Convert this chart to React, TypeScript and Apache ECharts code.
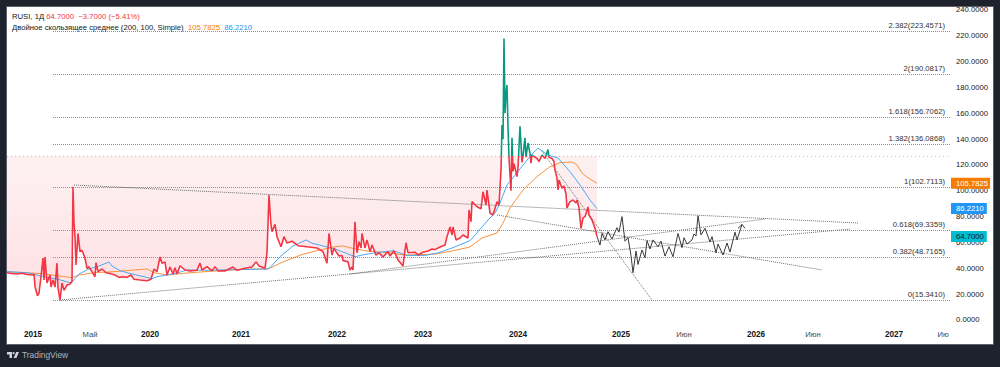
import React, { useEffect, useRef } from "react";
import * as echarts from "echarts";

const FONT = "'Liberation Sans', sans-serif";
const AXIS_END = 944;
const BASELINE = 127;

const yTicks = [0, 20, 40, 60, 80, 100, 120, 140, 160, 180, 200, 220, 240];
const xTickValues = [26, 83, 143, 234, 330, 416, 511, 614, 677, 749, 806, 887, 936];
const xTickLabels = ["2015", "Май", "2020", "2021", "2022", "2023", "2024", "2025", "Июн", "2026", "Июн", "2027", "Ию"];
const yearLabels = ["2015", "2020", "2021", "2022", "2023", "2024", "2025", "2026", "2027"];

const pricePts: number[][] = [
  [0,36.6],[5,36],[10,35.6],[15,36.2],[20,35.2],[26,34.8],[27,35.6],[28,25.8],[30.5,18.8],[32,20.7],[34,33.5],[36,48],[37,31],[38,48.8],[40,28.6],[42,33],[43,34.8],[44,25.5],[46,31],[48,25.5],[50,44],[51,24.8],[53,15.5],[55,28.6],[57,23],[60,27],[63,27.9],[65,29.7],[66,103.2],[67,75],[68,64.5],[69,42.6],[71,67],[73,52.9],[75,54],[78,48],[80,40],[82,41],[85,37.4],[88,33.5],[89,44.4],[91,37.4],[95,39.5],[99,36.6],[103,36],[108,34.8],[112,33],[116,33.5],[120,33],[124,34.8],[127,31.6],[133,31],[140,30.4],[144,31.6],[147,39.5],[150,37.4],[153,48.8],[155,44],[158,45],[160,34.8],[163,41],[166,35.6],[168,40.5],[170,35.6],[173,42],[178,38.7],[183,38],[190,38.5],[193,44],[195,38.7],[200,41.3],[205,38],[208,41.3],[211,38],[218,38],[226,41],[230,38.5],[238,40],[245,41],[249,45],[252,41.8],[258,40],[260,52],[262,96.8],[264,73.5],[265,68.4],[268,74],[270,64.5],[274,56.7],[277,64.5],[280,59.6],[285,61],[291,57.5],[300,56.7],[310,55.7],[316,52.9],[320,44],[322,67],[325,50.3],[327,55.7],[329,52.9],[332,49.5],[335,50],[336,46],[341,45],[343,38.7],[345,41],[346,38.7],[348,76],[350,52],[352,60.6],[354,55.7],[355,67],[358,55.7],[360,62],[363,52.9],[365,58],[369,50.3],[372,52],[376,48.8],[381,52.9],[383,49.5],[387,53.6],[391,46.5],[396,41.8],[399,59.8],[401,52],[408,52.5],[411,50.3],[416,52.5],[421,53.4],[425,55],[428,54.5],[433,56.5],[438,58],[440,64.5],[443,72],[445,65.8],[446,72],[449,62],[453,63.5],[456,65.8],[461,63.5],[462,85.2],[464,76],[465,91.6],[470,87.7],[474,86],[476,99.3],[479,89],[480,100.6],[483,82.8],[486,81.3],[490,91.6],[492,89],[494,116],[495,151],[496,140],[497,218],[498,160],[499,175],[500,182],[501,150],[502,125],[504,100],[505,141],[506,115],[507,121],[510,111],[511,118],[513,150],[515,122],[516,127],[518,141],[519,126],[521,137],[523,129],[524,121.5],[525,127.7],[526,127],[530,125],[532,122.6],[535,127.7],[538,125],[541,132],[542,126],[545,125],[547,122.6],[548,116],[550,110],[551,100.6],[552,108.4],[555,102],[557,103.7],[559,97.5],[560,86.7],[563,91.6],[566,92.9],[569,90.6],[570,92.9],[572,86.7],[574,71],[576,79],[578,80],[581,87.5],[582,81.3],[585,77.4],[588,71],[590,64.7],
];

const maSlowPts: number[][] = [
  [0,37.4],[33,36],[50,34.3],[65,32.8],[72,34.8],[87,36.6],[107,37.4],[127,38.7],[140,39.5],[147,36.6],[160,34.8],[180,36.4],[213,38.2],[246,39.5],[261,39.5],[276,45],[296,51],[313,54.2],[328,56.7],[336,57.3],[348,55],[361,53.4],[381,52],[398,50.3],[428,51],[445,53.4],[463,56.5],[475,63.5],[490,67.4],[496,75],[503,86.7],[516,100.6],[530,111],[543,118.7],[553,121.8],[565,122.3],[570,120],[575,113.8],[581,110],[590,105.8],
];

const maFastPts: number[][] = [
  [0,37.4],[20,36.6],[30,34.8],[40,33],[50,31.7],[63,28.9],[67,31],[72,35.6],[82,39.5],[92,41.8],[102,44.9],[105,41.8],[113,38.2],[125,35.6],[137,33.5],[145,32],[150,33.5],[160,34.8],[170,36.4],[180,38.7],[200,38.5],[230,39],[260,39.5],[263,40.5],[273,49],[286,57.3],[299,62],[305,59.4],[315,57.5],[328,55],[338,52],[348,49],[355,50.3],[368,52],[386,53.6],[400,50],[418,50],[431,52],[445,55.7],[463,61.4],[475,72],[481,77.4],[488,82.8],[493,90.6],[500,104.5],[506,110],[516,120],[525,128.5],[531,133],[536,130.3],[541,127.7],[551,125.4],[563,114.8],[573,104.5],[583,92.9],[590,86.2],
];

const projectionPts: number[][] = [
  [590,64.7],[593,58],[595,67],[598,62],[601,68.4],[605,62.7],[610,71.5],[612,68],[615,80],[618,61],[621,63.7],[624,49.8],[626,36.6],[629,53.4],[631,43],[635,54.2],[638,48.2],[640,61.4],[643,55],[646,62],[651,56.7],[654,61],[658,49.5],[662,56.7],[666,49],[671,67],[675,56],[677,63.7],[680,58.8],[685,62],[687,66.6],[689,65],[691,80.7],[694,65.8],[698,71],[703,60.4],[705,64.5],[709,52],[711,58.8],[716,50.3],[720,59.6],[723,52.6],[728,68],[730,62],[735,74],
];
const arrowPts: number[][] = [[731,71],[735,74],[738,71]];

const fibLevels = [
  { name: "2.382(223.4571)", value: 223.4571 },
  { name: "2(190.0817)", value: 190.0817 },
  { name: "1.618(156.7062)", value: 156.7062 },
  { name: "1.382(136.0868)", value: 136.0868 },
  { name: "1(102.7113)", value: 102.7113 },
  { name: "0.618(69.3359)", value: 69.3359 },
  { name: "0.382(48.7165)", value: 48.7165 },
  { name: "0(15.3410)", value: 15.341 },
];
const fibStart = 46;

const trendLines: number[][][] = [
  [[67,104.5],[851,75.1]],
  [[53,15.5],[843,70.4]],
  [[343,35.6],[758,78.2]],
  [[490,81.3],[815,38.7]],
  [[534,131.6],[645,15.5]],
];

const priceTags = [
  { value: 105.7825, text: "105.7825", bg: "#f57c00", fg: "#ffffff", pad: [1, 2, 1, 5] },
  { value: 86.221, text: "86.2210", bg: "#2196f3", fg: "#ffffff", pad: [1, 3, 1, 5] },
  { value: 64.7, text: "64.7000", bg: "#00bcd4", fg: "#131722", pad: [1, 3, 1, 5] },
];

echarts.graphic.registerShape(
  "tvlogo",
  echarts.graphic.extendPath(
    "M0 0H5V6H2.5V2.4H0Z M7.7 1.2A1.1 1.1 0 1 1 5.5 1.2A1.1 1.1 0 1 1 7.7 1.2Z M9.2 0H12L9.4 6H6.6Z",
    {}
  ) as any
);

const dotted = (color: string, dash: number[]) => ({ color, width: 1, type: dash, opacity: 1 });

const legendText = (color: string) => ({
  fontSize: 7.7, fontWeight: "normal", fontFamily: FONT, color,
});

export default function App() {
  const ref = useRef<HTMLDivElement>(null);
  useEffect(() => {
    document.body.style.margin = "0";
    document.body.style.background = "#1e222d";
    const chart = echarts.init(ref.current!, null, { renderer: "svg" });
    chart.setOption({
      animation: false,
      textStyle: { fontFamily: FONT },
      title: [
        {
          left: 12, top: 11, padding: 0,
          text: "{a|RUSI, 1Д} {b|64.7000  −3.7000 (−5.41%)}",
          textStyle: {
            fontWeight: "normal", fontSize: 7.7, lineHeight: 10,
            rich: { a: legendText("#131722"), b: legendText("#f23645") },
          },
        },
        {
          left: 12, top: 22.5, padding: 0,
          text: "{a|Двойное скользящее среднее (200, 100, Simple)}  {b|105.7825}  {c|86.2210}",
          textStyle: {
            fontWeight: "normal", fontSize: 7.7, lineHeight: 10,
            rich: { a: legendText("#131722"), b: legendText("#f57c00"), c: legendText("#2196f3") },
          },
        },
      ],
      grid: { left: 7, right: 49, top: 7, bottom: 23, containLabel: false },
      xAxis: {
        type: "value", min: 0, max: AXIS_END,
        splitLine: { show: false }, axisLine: { show: false }, axisTick: { show: false },
        axisLabel: {
          inside: true, margin: 6, showMinLabel: true, showMaxLabel: true, hideOverlap: false,
          customValues: xTickValues,
          formatter: (v: number) => {
            const t = xTickLabels[xTickValues.indexOf(v)] ?? "";
            return yearLabels.includes(t) ? `{y|${t}}` : `{m|${t}}`;
          },
          rich: {
            y: { fontSize: 8.2, fontWeight: 600, fontFamily: FONT, color: "#131722" },
            m: { fontSize: 7.6, fontFamily: FONT, color: "#434651" },
          },
        },
      },
      yAxis: {
        type: "value", position: "right", min: -18.58, max: 242.3,
        splitLine: { show: false }, axisLine: { show: false }, axisTick: { show: false },
        axisLabel: {
          customValues: yTicks, margin: 5, fontSize: 7.7, fontFamily: FONT, color: "#131722",
          formatter: (v: number) => v.toFixed(4),
        },
      },
      visualMap: {
        show: false, type: "piecewise", seriesIndex: 1, dimension: 1,
        pieces: [
          { gt: BASELINE, lte: 1000, color: "#089981" },
          { gte: -100, lte: BASELINE, color: "#f23645" },
        ],
      },
      series: [
        {
          name: "fill", type: "line", symbol: "none", silent: true, z: 1,
          data: pricePts.map(([x, v]) => [x, Math.min(v, BASELINE)]),
          lineStyle: { width: 0, opacity: 0 },
          areaStyle: {
            origin: BASELINE, opacity: 1,
            color: new echarts.graphic.LinearGradient(0, 0, 0, 1, [
              { offset: 0, color: "#fdf1f2" },
              { offset: 1, color: "#ffdfe2" },
            ]),
          },
          markLine: {
            silent: true, symbol: "none", animation: false,
            data: [
              ...fibLevels.map((f) => [
                {
                  name: f.name, coord: [fibStart, f.value],
                  lineStyle: dotted("#8f8f8f", [1, 1]),
                  label: {
                    show: true, position: "insideEndTop", distance: [6, 2], formatter: "{b}",
                    fontSize: 7.7, fontFamily: FONT, color: "#333333",
                  },
                },
                { coord: [AXIS_END, f.value] },
              ]),
              [
                { coord: [0, BASELINE], lineStyle: dotted("#c4c4c4", [1, 3]), label: { show: false } },
                { coord: [941, BASELINE] },
              ],
              ...trendLines.map(([a, b]) => [
                { coord: a, lineStyle: dotted("#707070", [1, 1]), label: { show: false } },
                { coord: b },
              ]),
            ],
          },
        },
        {
          name: "RUSI", type: "line", symbol: "none", silent: true, z: 6,
          data: pricePts, lineStyle: { width: 1.6 },
        },
        {
          name: "MA 200", type: "line", symbol: "none", silent: true, z: 5,
          data: maSlowPts, lineStyle: { width: 1, color: "#fb923c" },
        },
        {
          name: "MA 100", type: "line", symbol: "none", silent: true, z: 5,
          data: maFastPts, lineStyle: { width: 1, color: "#4aa8f5" },
        },
        {
          name: "Projection", type: "line", symbol: "none", silent: true, z: 7,
          data: projectionPts, lineStyle: { width: 1, color: "#3a3a3a" },
        },
        {
          name: "Arrow", type: "line", symbol: "none", silent: true, z: 9,
          data: arrowPts, lineStyle: { width: 1, color: "#3a3a3a" },
          markLine: {
            silent: true, symbol: "none", animation: false,
            data: priceTags.map((t) => [
              {
                coord: [AXIS_END - 1, t.value],
                lineStyle: { width: 0, color: "rgba(0,0,0,0)", opacity: 1 },
                label: {
                  show: true, position: "end", distance: 0, formatter: t.text,
                  backgroundColor: t.bg, color: t.fg, padding: t.pad, opacity: 1,
                  fontSize: 7.7, lineHeight: 9, fontFamily: FONT,
                },
              },
              { coord: [AXIS_END, t.value] },
            ]),
          },
        },
      ],
      graphic: [
        { type: "tvlogo", x: 7, y: 352, style: { fill: "#d1d4dc" }, silent: true },
        {
          type: "text", x: 22, y: 351, silent: true,
          style: { text: "TradingView", fontSize: 8.4, fontFamily: FONT, fontWeight: 500, fill: "#b2b5be" },
        },
      ],
    });
    return () => chart.dispose();
  }, []);
  return (
    <div style={{ position: "fixed", left: 0, top: 0, width: 1000, height: 367, background: "#1e222d", overflow: "hidden" }}>
      <div style={{ position: "absolute", left: 6, top: 6, width: 986, height: 337, background: "#fff", border: "1px solid #5d606b" }} />
      <div ref={ref} style={{ position: "absolute", left: 0, top: 0, width: 1000, height: 367 }} />
    </div>
  );
}
